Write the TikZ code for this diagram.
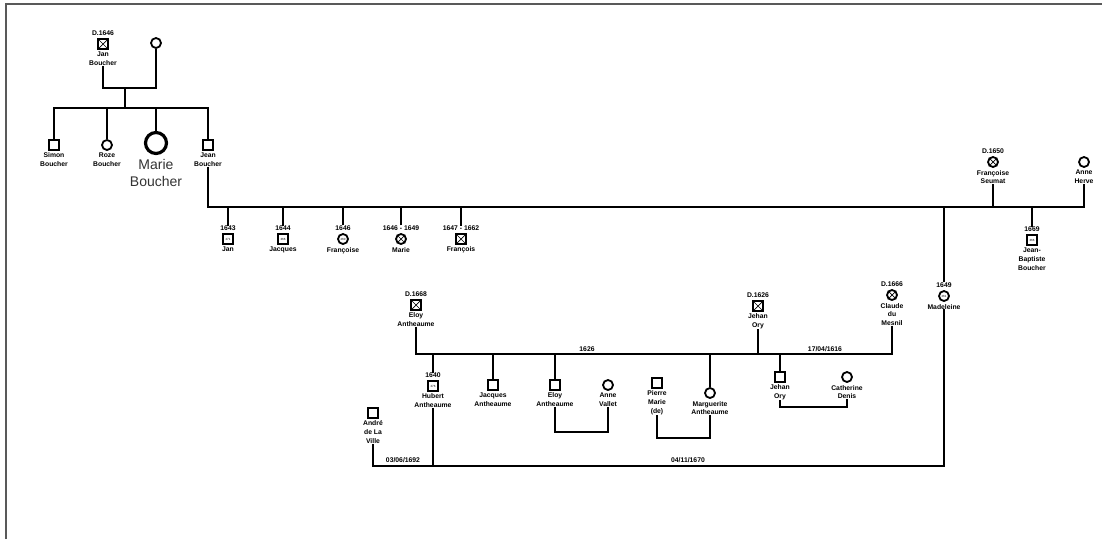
\documentclass[tikz,border=0pt]{standalone}
\usepackage{fontspec}
\setmainfont{Liberation Sans}
\newcommand\xsq[1]{\draw[line width=0.7pt] (#1.north west)--(#1.south east) (#1.north east)--(#1.south west);}
\newcommand\xci[1]{\draw[line width=0.7pt] (#1.45)--(#1.225) (#1.135)--(#1.315);}
\begin{document}
\begin{tikzpicture}[x=1pt,y=-1pt,
  ln/.style={line width=1.6pt, black},
  msq/.style={draw, line width=1.4pt, minimum size=10pt, inner sep=0pt, fill=white},
  fci/.style={draw, circle, line width=1.8pt, minimum size=10pt, inner sep=0pt, fill=white},
  lbl/.style={font=\bfseries\fontsize{6.8}{8.8}\selectfont, align=center, inner sep=0pt},
  num/.style={font=\fontsize{3}{3}\selectfont, inner sep=0pt},
  yr/.style={lbl, anchor=south, yshift=2.5pt},
  nm/.style={lbl, anchor=north, yshift=-2pt}]
\useasboundingbox (0,0) rectangle (1102,539);
\draw[black!65, line width=1.5pt] (6,539) -- (6,4) -- (1102,4);

% ---- top family
\node[msq] (janB) at (103,44) {}; \xsq{janB}
\node[yr] (janB-y) at (janB.north) {D.1646};
\node[nm] (janB-n) at (janB.south) {Jan\\Boucher};
\node[fci] (wifeA) at (156,43) {};
\node[msq] (simon) at (54,145) {};
\node[nm] (simon-n) at (simon.south) {Simon\\Boucher};
\node[fci] (roze) at (107,145) {};
\node[nm] (roze-n) at (roze.south) {Roze\\Boucher};
\node[draw, circle, line width=3.2pt, minimum size=21pt, inner sep=0pt] (marie) at (156,143) {};
\node[anchor=north, align=center, inner sep=0pt, text=black!80, font=\fontsize{14}{17}\selectfont] (marie-n) at ([yshift=-4pt]marie.south) {Marie\\Boucher};
\node[msq] (jean) at (208,145) {};
\node[nm] (jean-n) at (jean.south) {Jean\\Boucher};

\coordinate (m1) at (125,88);
\coordinate (s1) at (125,108);
\draw[ln] (janB-n.south) |- (m1) -| (wifeA.south);
\draw[ln] (m1) -- (s1);
\draw[ln] (simon.north) |- (s1);
\draw[ln] (roze.north) |- (s1);
\draw[ln] (marie.north) |- (s1);
\draw[ln] (jean.north) |- (s1);

% ---- Jean's marriages
\node[fci] (fs) at (993,162) {}; \xci{fs}
\node[yr] (fs-y) at (fs.north) {D.1650};
\node[nm] (fs-n) at (fs.south) {Françoise\\Seumat};
\node[fci] (anneH) at (1084,162) {};
\node[nm] (anneH-n) at (anneH.south) {Anne\\Herve};

\coordinate (m2) at (1084,207);
\draw[ln] (jean-n.south) |- (m2) -- (anneH-n.south);
\draw[ln] (fs-n.south) -- (fs-n.south |- m2);

% children
\node[msq] (jan2) at (228,239) {}; \node[num] (jan2-k) at (jan2) {271};
\node[yr] (jan2-y) at (jan2.north) {1643};
\node[nm] (jan2-n) at (jan2.south) {Jan};
\node[msq] (jacq1) at (283,239) {}; \node[num] (jacq1-k) at (jacq1) {366};
\node[yr] (jacq1-y) at (jacq1.north) {1644};
\node[nm] (jacq1-n) at (jacq1.south) {Jacques};
\node[fci] (fran) at (343,239) {}; \node[num] (fran-k) at (fran) {260};
\node[yr] (fran-y) at (fran.north) {1646};
\node[nm] (fran-n) at (fran.south) {Françoise};
\node[fci] (mar2) at (401,239) {}; \xci{mar2}
\node[yr] (mar2-y) at (mar2.north) {1646 - 1649};
\node[nm] (mar2-n) at (mar2.south) {Marie};
\node[msq] (fran2) at (461,239) {}; \xsq{fran2}
\node[yr] (fran2-y) at (fran2.north) {1647 - 1662};
\node[nm] (fran2-n) at (fran2.south) {François};
\node[msq] (jb) at (1032,240) {}; \node[num] (jb-k) at (jb) {366};
\node[yr] (jb-y) at (jb.north) {1669};
\node[nm] (jb-n) at (jb.south) {Jean-\\Baptiste\\Boucher};
\node[fci] (mad) at (944,296) {}; \node[num] (mad-k) at (mad) {261};
\node[yr] (mad-y) at (mad.north) {1649};
\node[nm] (mad-n) at (mad.south) {Madeleine};

\foreach \c in {jan2,jacq1,fran,mar2,fran2,jb,mad}
  \draw[ln] (\c-y.north) -- (\c-y.north |- m2);

% ---- lower family
\node[msq] (eloyA) at (416,305) {}; \xsq{eloyA}
\node[yr] (eloyA-y) at (eloyA.north) {D.1668};
\node[nm] (eloyA-n) at (eloyA.south) {Eloy\\Antheaume};
\node[msq] (jehanA) at (758,306) {}; \xsq{jehanA}
\node[yr] (jehanA-y) at (jehanA.north) {D.1626};
\node[nm] (jehanA-n) at (jehanA.south) {Jehan\\Ory};
\node[fci] (claude) at (892,295) {}; \xci{claude}
\node[yr] (claude-y) at (claude.north) {D.1666};
\node[nm] (claude-n) at (claude.south) {Claude\\du\\Mesnil};

\coordinate (m3) at (892,354);
\draw[ln] (eloyA-n.south) |- (m3) -- (claude-n.south);
\draw[ln] (jehanA-n.south) -- (jehanA-n.south |- m3);
\node[lbl, anchor=south] (d1626) at (587,352) {1626};
\node[lbl, anchor=south] (d1616) at (825,352) {17/04/1616};

\node[msq] (hub) at (433,386) {}; \node[num] (hub-k) at (hub) {276};
\node[yr] (hub-y) at (hub.north) {1640};
\node[nm] (hub-n) at (hub.south) {Hubert\\Antheaume};
\node[msq] (jacq2) at (493,385) {};
\node[nm] (jacq2-n) at (jacq2.south) {Jacques\\Antheaume};
\node[msq] (eloyB) at (555,385) {};
\node[nm] (eloyB-n) at (eloyB.south) {Eloy\\Antheaume};
\node[fci] (anneV) at (608,385) {};
\node[nm] (anneV-n) at (anneV.south) {Anne\\Vallet};
\node[msq] (pierre) at (657,383) {};
\node[nm] (pierre-n) at (pierre.south) {Pierre\\Marie\\(de)};
\node[fci] (marg) at (710,393) {};
\node[nm] (marg-n) at (marg.south) {Marguerite\\Antheaume};
\node[msq] (jehanB) at (780,377) {};
\node[nm] (jehanB-n) at (jehanB.south) {Jehan\\Ory};
\node[fci] (cath) at (847,377) {};
\node[nm] (cath-n) at (cath.south) {Catherine\\Denis};
\node[msq] (andre) at (373,413) {};
\node[nm] (andre-n) at (andre.south) {André\\de La\\Ville};

\draw[ln] (hub-y.north) -- (hub-y.north |- m3);
\foreach \c in {jacq2,eloyB,marg,jehanB}
  \draw[ln] (\c.north) -- (\c.north |- m3);

\coordinate (m4) at (580,432);
\coordinate (m5) at (684,438);
\coordinate (m6) at (812,407);
\coordinate (m8) at (944,466);
\draw[ln] (eloyB-n.south) |- (m4) -| (anneV-n.south);
\draw[ln] (pierre-n.south) |- (m5) -| (marg-n.south);
\draw[ln] (jehanB-n.south) |- (m6) -| (cath-n.south);
\draw[ln] (andre-n.south) |- (m8) -- (mad-n.south);
\draw[ln] (hub-n.south) -- (hub-n.south |- m8);
\node[lbl, anchor=south] (d1692) at (403,463) {03/06/1692};
\node[lbl, anchor=south] (d1670) at (688,463) {04/11/1670};
\end{tikzpicture}
\end{document}
